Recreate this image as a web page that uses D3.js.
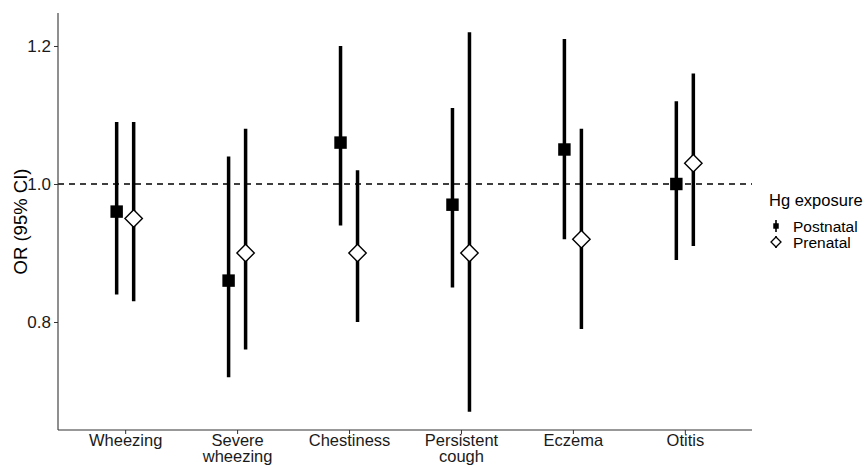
<!DOCTYPE html>
<html>
<head>
<meta charset="utf-8">
<script src="https://cdn.jsdelivr.net/npm/d3@7"></script>
<style>
  body { margin: 0; background: #fff; }
  text { font-family: "Liberation Sans", Arial, sans-serif; }
</style>
</head>
<body>
<script>
// data
const outcomes = ["Wheezing", "Severe\nwheezing", "Chestiness", "Persistent\ncough", "Eczema", "Otitis"]
const groups = ["Postnatal", "Prenatal"]
const postOR = [0.96, 0.86, 1.06, 0.97, 1.05, 1.00]
const postLo = [0.84, 0.72, 0.94, 0.85, 0.92, 0.89]
const postHi = [1.09, 1.04, 1.20, 1.11, 1.21, 1.12]
const preOR  = [0.95, 0.90, 0.90, 0.90, 0.92, 1.03]
const preLo  = [0.83, 0.76, 0.80, 0.67, 0.79, 0.91]
const preHi  = [1.09, 1.08, 1.02, 1.22, 1.08, 1.16]
const yTicks = [0.8, 1.0, 1.2]

const rows = []
outcomes.forEach((o, i) => {
    rows.push({ outcome: o, group: "Postnatal", or: postOR[i], lo: postLo[i], hi: postHi[i] })
    rows.push({ outcome: o, group: "Prenatal", or: preOR[i], lo: preLo[i], hi: preHi[i] })
})

const W = 867, H = 467
const pLeft = 58, pRight = 752, pTop = 13, pBottom = 430

let svg = d3.select('body').append('svg')
    .attr('width', W)
    .attr('height', H)

// discrete x with ggplot-like 0.6 expansion
let xScale = d3.scalePoint()
    .domain(outcomes)
    .range([pLeft, pRight])
    .padding(0.6)

let dodge = d3.scalePoint()
    .domain(groups)
    .range([-8.5, 8.5])

let yScale = d3.scaleLinear()
    .domain([0.6435, 1.2478])
    .range([pBottom, pTop])

// reference line at 1
svg.append('line')
    .attr('x1', pLeft).attr('x2', pRight)
    .attr('y1', yScale(1)).attr('y2', yScale(1))
    .attr('stroke', '#000')
    .attr('stroke-width', 1.4)
    .attr('stroke-dasharray', '6,5')

// error bars
svg.selectAll('line.ci')
    .data(rows)
    .enter().append('line')
    .attr('class', 'ci')
    .attr('x1', d => xScale(d.outcome) + dodge(d.group))
    .attr('x2', d => xScale(d.outcome) + dodge(d.group))
    .attr('y1', d => yScale(d.lo))
    .attr('y2', d => yScale(d.hi))
    .attr('stroke', '#000')
    .attr('stroke-width', 3.5)

// points
let squareSym = d3.symbol().type(d3.symbolSquare).size(155)
function diamondPath(r) {
    return `M0,${-r}L${r},0L0,${r}L${-r},0Z`
}

svg.selectAll('path.pt')
    .data(rows)
    .enter().append('path')
    .attr('class', 'pt')
    .attr('transform', d => `translate(${xScale(d.outcome) + dodge(d.group)},${yScale(d.or)})`)
    .attr('d', d => d.group === "Postnatal" ? squareSym() : diamondPath(8.7))
    .attr('fill', d => d.group === "Postnatal" ? '#000' : '#fff')
    .attr('stroke', '#000')
    .attr('stroke-width', d => d.group === "Postnatal" ? 0 : 1.4)

// x axis
let xAxis = d3.axisBottom(xScale).tickSize(4).tickSizeOuter(0).tickFormat('')
let gx = svg.append('g')
    .attr('transform', `translate(0,${pBottom})`)
    .call(xAxis)
gx.select('.domain').attr('stroke', '#333').attr('stroke-width', 1.1)
    .attr('d', `M${pLeft},0H${pRight}`)
gx.selectAll('.tick line').attr('stroke', '#333')
gx.selectAll('.tick').each(function(d) {
    let lines = d.split('\n')
    let t = d3.select(this).append('text')
        .attr('fill', '#1a1a1a')
        .attr('font-size', 16.5)
        .attr('text-anchor', 'middle')
        .attr('y', 16)
    lines.forEach((l, k) => {
        t.append('tspan').attr('x', 0).attr('dy', k === 0 ? 0 : 16).text(l)
    })
})

// y axis
let yAxis = d3.axisLeft(yScale).tickValues(yTicks).tickSize(4).tickSizeOuter(0)
    .tickFormat(d3.format('.1f'))
let gy = svg.append('g')
    .attr('transform', `translate(${pLeft},0)`)
    .call(yAxis)
gy.select('.domain').attr('stroke', '#333').attr('stroke-width', 1.1)
    .attr('d', `M0,${pTop}V${pBottom}`)
gy.selectAll('.tick line').attr('stroke', '#333')
gy.selectAll('.tick text')
    .attr('fill', '#1a1a1a')
    .attr('font-size', 17)
    .attr('x', -7)
gx.attr('font-family', null)
gy.attr('font-family', null)

// y title
svg.append('text')
    .attr('transform', `translate(27,${(pTop + pBottom) / 2}) rotate(-90)`)
    .attr('text-anchor', 'middle')
    .attr('font-size', 18.5)
    .attr('fill', '#000')
    .text('OR (95% CI)')

// legend
let lg = svg.append('g').attr('transform', 'translate(769,0)')
lg.append('text')
    .attr('x', 0).attr('y', 206)
    .attr('font-size', 16.5)
    .text('Hg exposure')
groups.forEach((g, k) => {
    let cy = 226 + k * 16
    let cx = 7
    lg.append('line')
        .attr('x1', cx).attr('x2', cx)
        .attr('y1', cy - 6).attr('y2', cy + 6)
        .attr('stroke', '#000').attr('stroke-width', 1.6)
    lg.append('path')
        .attr('transform', `translate(${cx},${cy})`)
        .attr('d', g === "Postnatal" ? d3.symbol().type(d3.symbolSquare).size(30)() : diamondPath(5))
        .attr('fill', g === "Postnatal" ? '#000' : '#fff')
        .attr('stroke', '#000')
        .attr('stroke-width', g === "Postnatal" ? 0 : 1.3)
    lg.append('text')
        .attr('x', 24).attr('y', cy + 5.5)
        .attr('font-size', 15.5)
        .text(g)
})
</script>
</body>
</html>
